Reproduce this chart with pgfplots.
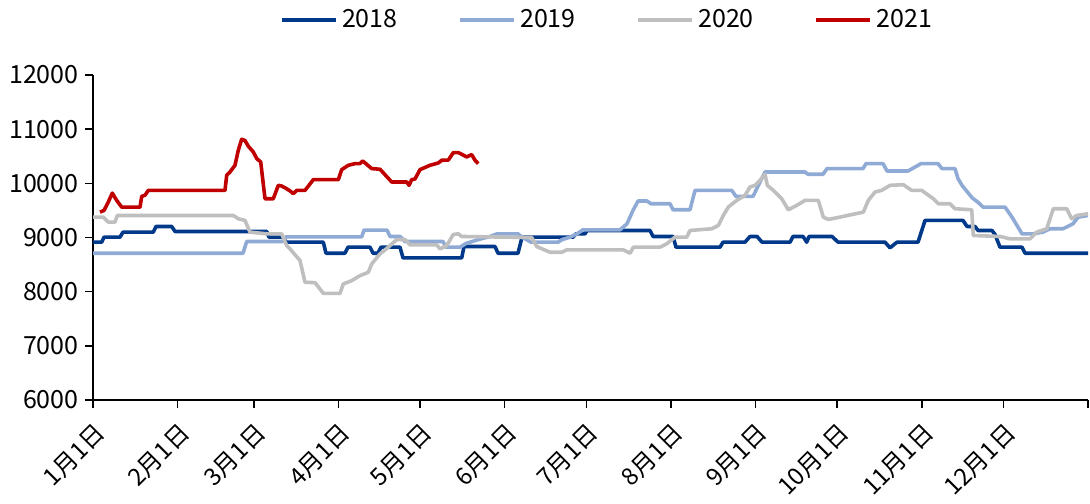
\documentclass[border=0pt]{standalone}
\usepackage{fontspec}
\setmainfont{Noto Sans CJK SC}
\usepackage{pgfplots}
\pgfplotsset{compat=1.18}
\definecolor{c18}{RGB}{0,56,138}
\definecolor{c19}{RGB}{143,170,212}
\definecolor{c20}{RGB}{191,191,191}
\definecolor{c21}{RGB}{192,0,0}
\begin{document}
\begin{tikzpicture}
\begin{axis}[
  at={(0pt,0pt)}, anchor=south west,
  scale only axis, width=497.5pt, height=162.5pt,
  xmin=0, xmax=365, ymin=6000, ymax=12000,
  axis lines=left,
  axis line style={-, line width=0.9pt, black},
  xtick={0,31,59,90,120,151,181,212,243,273,304,334,365},
  xticklabels={1月1日,2月1日,3月1日,4月1日,5月1日,6月1日,7月1日,8月1日,9月1日,10月1日,11月1日,12月1日,{}},
  ytick={6000,7000,8000,9000,10000,11000,12000},
  scaled y ticks=false,
  tick align=outside, major tick length=4pt,
  every tick/.style={black, line width=0.8pt},
  tick label style={font=\fontsize{12.5}{14}\selectfont, black},
  xticklabel style={font=\fontsize{12}{14}\selectfont, rotate=45, anchor=east, inner sep=2.5pt, xshift=-2pt, yshift=-10pt},
  yticklabel style={/pgf/number format/1000 sep={}, inner sep=3pt},
  /pgf/number format/assume math mode=true,
  legend columns=4,
  legend style={at={(0.5176,1.169)}, anchor=center, draw=none, fill=none,
    font=\fontsize{12.5}{14}\selectfont,
    /tikz/every even column/.append style={column sep=28.3pt}},
  legend image code/.code={\draw[#1, line width=2pt] (0pt,0pt) -- (27pt,0pt);},
  every axis plot/.append style={line width=1.8pt, line join=round, no marks},
]
\addplot[c18] coordinates {
(0,8914) (3.19,8914) (4.04,9006) (9.90,9006) (11.0,9099) (22.12,9099) (23.11,9204) (28.87,9204) (30.09,9111) (63.72,9111) (64.56,9006) (69.81,9006) (70.80,8914) (84.48,8914) (85.47,8710) (92.44,8710) (93.54,8821) (101.61,8821) (102.71,8710) (104.55,8710) (105.65,8821) (112.62,8821) (113.72,8624) (135.25,8624) (136.10,8833) (147.47,8833) (148.57,8710) (155.91,8710) (157.37,9006) (176.08,9006) (177.18,9068) (180.49,9068) (181.22,9130) (204.33,9130) (205.43,9019) (212.77,9019) (213.87,8821) (230.01,8821) (231.11,8914) (239.18,8914) (241.01,9019) (243.58,9019) (245.42,8914) (255.69,8914) (256.79,9019) (260.46,9019) (261.82,8914) (262.66,9019) (271.09,9019) (273.30,8914) (290.53,8914) (292.37,8810) (294.94,8914) (302.64,8914) (305.21,9315) (319.15,9315) (320.62,9204) (323.55,9204) (324.65,9130) (329.78,9130) (330.88,9056) (332.72,8821) (340.79,8821) (341.89,8710) (365,8710)
};
\addlegendentry{2018}
\addplot[c19] coordinates {
(0,8710) (55.03,8710) (56.38,8926) (69.70,8926) (70.80,9012) (98.57,9012) (99.41,9136) (107.85,9136) (108.95,9019) (112.62,9019) (114.45,8926) (128.39,8926) (129.49,8821) (134.63,8821) (136.83,8890) (141.23,8960) (145.64,9019) (148.20,9068) (155.91,9068) (157.37,9006) (160.68,8914) (170.58,8914) (172.05,8960) (174.98,9006) (177.55,9068) (179.75,9142) (193.32,9142) (195.89,9253) (198.09,9500) (199.93,9673) (203.23,9673) (204.70,9623) (211.67,9623) (212.77,9512) (219.00,9512) (220.84,9870) (234.30,9870) (235.88,9759) (242.11,9759) (243.95,9950) (246.52,10210) (261.19,10210) (262.29,10167) (267.79,10167) (269.26,10272) (282.47,10272) (283.57,10364) (289.80,10364) (291.27,10228) (298.97,10228) (301.54,10300) (303.74,10364) (309.98,10364) (311.45,10272) (316.21,10272) (317.31,10086) (318.78,9963) (322.45,9735) (324.65,9650) (326.48,9562) (334.56,9562) (337.12,9376) (340.79,9068) (344.83,9068) (348.50,9100) (351.06,9161) (355.83,9161) (359.50,9253) (361.34,9376) (365,9407)
};
\addlegendentry{2019}
\addplot[c20] coordinates {
(0,9376) (3.78,9376) (5.61,9284) (8.07,9284) (8.91,9407) (51.47,9407) (53.30,9346) (55.76,9315) (57.59,9099) (63.72,9068) (69.22,9068) (71.06,8852) (72.27,8790) (75.94,8574) (77.77,8173) (81.44,8167) (84.48,7969) (90.61,7969) (91.82,8142) (94.90,8204) (97.94,8296) (100.99,8358) (102.24,8512) (105.28,8698) (108.33,8821) (111.41,8963) (114.45,8963) (116.29,8864) (126.08,8864) (127.29,8790) (129.75,8852) (132.17,9056) (134.01,9068) (135.25,9019) (160.93,9000) (162.77,8833) (167.65,8728) (171.94,8728) (173.77,8772) (194.54,8772) (197.00,8710) (198.21,8821) (207.98,8821) (210.44,8883) (213.48,9006) (217.79,9006) (219.00,9130) (226.96,9161) (229.38,9222) (231.22,9407) (233.05,9562) (236.13,9685) (239.18,9778) (241.01,9932) (242.85,9963) (244.68,10056) (246.52,10167) (247.36,9963) (249.56,9870) (252.64,9716) (255.06,9512) (258.14,9593) (261.19,9685) (266.07,9685) (267.90,9376) (269.74,9333) (272.82,9364) (282.58,9469) (284.41,9685) (286.87,9840) (289.32,9870) (292.37,9963) (297.25,9975) (300.33,9870) (304.00,9870) (308.25,9716) (310.09,9623) (314.38,9623) (316.21,9531) (322.34,9512) (322.92,9037) (332.72,9019) (336.39,8976) (343.73,8976) (346.18,9099) (349.85,9161) (352.27,9531) (357.19,9531) (359.02,9346) (360.86,9407) (365,9438)
};
\addlegendentry{2020}
\addplot[c21] coordinates {
(2.57,9469) (4.04,9500) (5.61,9654) (7.08,9820) (8.69,9685) (10.53,9560) (17.24,9560) (17.87,9760) (19.08,9780) (20.29,9870) (48.42,9870) (49.05,10150) (50.26,10210) (52.09,10333) (53.30,10611) (54.55,10815) (55.76,10790) (56.97,10685) (58.80,10580) (60.05,10457) (61.52,10395) (63.10,9716) (66.14,9716) (67.98,9963) (69.22,9950) (71.06,9900) (72.27,9860) (73.48,9810) (74.73,9870) (77.77,9870) (80.81,10068) (89.99,10068) (91.23,10253) (93.65,10333) (96.11,10364) (97.94,10364) (98.94,10413) (102.24,10272) (105.28,10260) (109.57,10025) (115.08,10025) (115.92,9963) (116.91,10068) (118.12,10080) (119.95,10253) (123.62,10333) (126.67,10376) (127.91,10426) (130.34,10430) (132.17,10568) (134.01,10568) (137.09,10488) (138.92,10531) (140.13,10426) (141.34,10364)
};
\addlegendentry{2021}
\end{axis}
\pgfresetboundingbox
\path[use as bounding box] (-46.5pt,-51.5pt) rectangle (498.5pt,200pt);
\end{tikzpicture}
\end{document}
